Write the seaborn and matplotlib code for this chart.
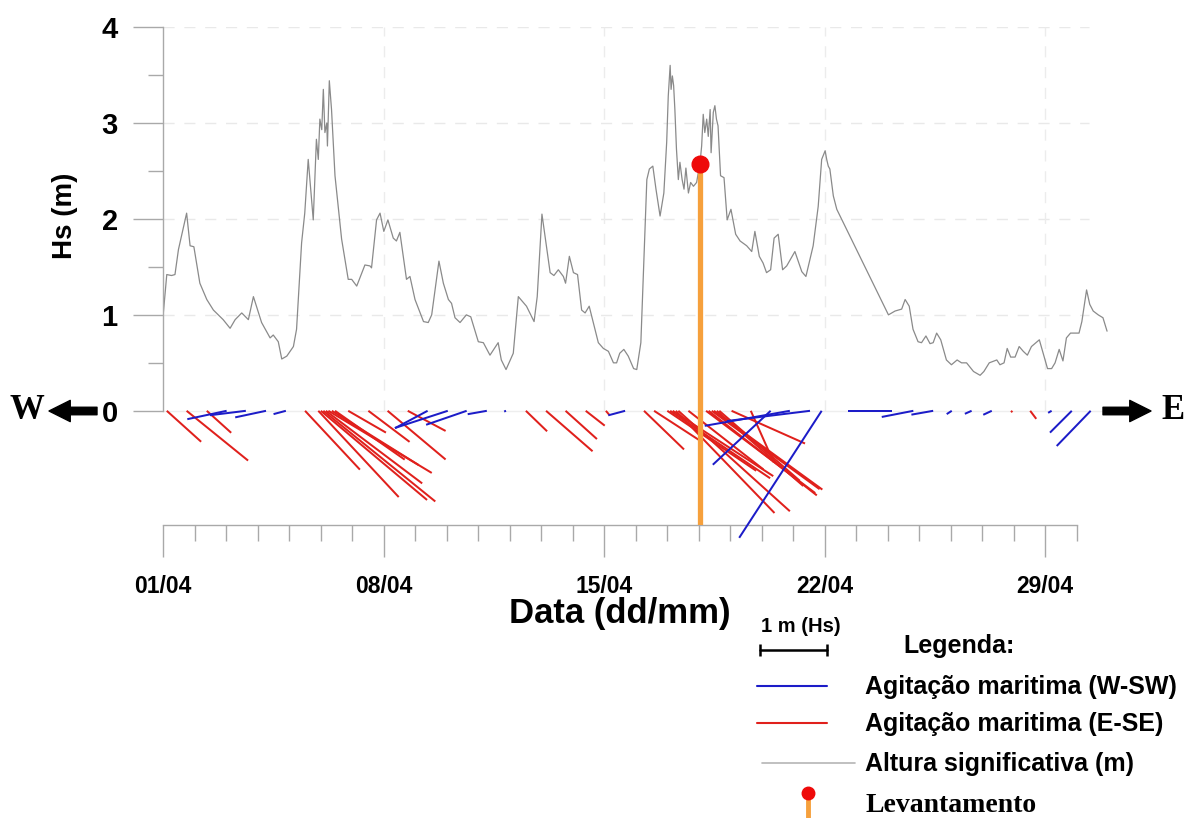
import numpy as np
import matplotlib
matplotlib.use("Agg")
import matplotlib.pyplot as plt
import seaborn as sns
from matplotlib.lines import Line2D

# significant wave height, time in days from 01/04 00h
hs_day = [0.00, 0.12, 0.27, 0.38, 0.49, 0.75, 0.86, 0.98, 1.17, 1.39, 1.60, 1.91, 2.13, 2.29,
          2.50, 2.71, 2.87, 3.13, 3.40, 3.50, 3.66, 3.77, 3.93, 4.14, 4.24, 4.40, 4.50, 4.61,
          4.77, 4.87, 4.93, 4.98, 5.04, 5.09, 5.14, 5.20, 5.22, 5.28, 5.35, 5.46, 5.67, 5.88,
          5.99, 6.15, 6.41, 6.57, 6.62, 6.78, 6.89, 7.01, 7.14, 7.31, 7.41, 7.52, 7.73, 7.84,
          8.00, 8.27, 8.42, 8.53, 8.76, 8.90, 9.06, 9.16, 9.27, 9.43, 9.63, 9.77, 10.01, 10.17,
          10.38, 10.64, 10.74, 10.89, 11.12, 11.28, 11.54, 11.78, 11.88, 12.03, 12.29, 12.41,
          12.55, 12.71, 12.78, 12.90, 13.03, 13.16, 13.29, 13.40, 13.53, 13.82, 13.98, 14.14,
          14.30, 14.40, 14.50, 14.63, 14.77, 14.94, 15.04, 15.17, 15.36, 15.44, 15.55, 15.65,
          15.78, 15.90, 15.99, 16.04, 16.10, 16.13, 16.17, 16.21, 16.25, 16.30, 16.36, 16.41,
          16.48, 16.54, 16.60, 16.68, 16.75, 16.84, 16.94, 17.05, 17.10, 17.15, 17.20, 17.26,
          17.31, 17.37, 17.40, 17.47, 17.52, 17.57, 17.62, 17.70, 17.81, 17.91, 18.03, 18.18,
          18.32, 18.53, 18.69, 18.79, 18.93, 19.05, 19.16, 19.29, 19.40, 19.53, 19.67, 19.80,
          20.06, 20.28, 20.41, 20.64, 20.80, 20.91, 21.02, 21.07, 21.12, 21.17, 21.28, 21.39,
          23.03, 23.24, 23.45, 23.56, 23.69, 23.81, 23.97, 24.08, 24.22, 24.35, 24.45, 24.56,
          24.69, 24.87, 25.03, 25.21, 25.35, 25.51, 25.73, 25.94, 26.06, 26.23, 26.47, 26.57,
          26.70, 26.80, 26.91, 27.05, 27.18, 27.31, 27.44, 27.57, 27.82, 27.94, 28.08, 28.21,
          28.32, 28.45, 28.57, 28.68, 28.81, 28.94, 29.08, 29.17, 29.32, 29.42, 29.53, 29.69,
          29.84, 29.97]
hs_m = [0.98, 1.42, 1.41, 1.42, 1.68, 2.06, 1.72, 1.71, 1.33, 1.16, 1.05, 0.95, 0.86, 0.95,
        1.02, 0.95, 1.19, 0.92, 0.76, 0.79, 0.72, 0.54, 0.57, 0.67, 0.85, 1.75, 2.06, 2.62,
        1.99, 2.83, 2.62, 3.04, 2.93, 3.35, 2.90, 3.00, 2.76, 3.44, 3.14, 2.45, 1.79, 1.37,
        1.37, 1.30, 1.52, 1.51, 1.49, 1.99, 2.06, 1.87, 1.99, 1.80, 1.77, 1.86, 1.37, 1.40,
        1.16, 0.93, 0.92, 1.00, 1.56, 1.33, 1.16, 1.12, 0.97, 0.92, 1.00, 0.98, 0.72, 0.71,
        0.58, 0.71, 0.53, 0.43, 0.60, 1.19, 1.09, 0.93, 1.19, 2.05, 1.44, 1.41,
        1.47, 1.40, 1.33, 1.61, 1.44, 1.42, 1.05, 1.02, 1.09, 0.71, 0.65, 0.62,
        0.50, 0.50, 0.60, 0.64, 0.57, 0.44, 0.43, 0.71, 2.41, 2.52, 2.55, 2.31,
        2.03, 2.27, 2.80, 3.28, 3.60, 3.35, 3.49, 3.39, 3.14, 2.73, 2.41, 2.59,
        2.41, 2.31, 2.53, 2.27, 2.38, 2.34, 2.38, 2.59, 2.76, 3.09, 2.90, 3.04,
        2.86, 3.14, 2.69, 3.11, 3.18, 3.04, 2.97, 2.45, 2.43, 1.99, 2.10, 1.84,
        1.77, 1.72, 1.66, 1.87, 1.61, 1.54, 1.44, 1.47, 1.80, 1.84, 1.47, 1.51,
        1.66, 1.45, 1.40, 1.72, 2.13, 2.62, 2.71, 2.62, 2.55, 2.52, 2.24, 2.10,
        1.00, 1.04, 1.06, 1.16, 1.09, 0.85, 0.72, 0.71, 0.78, 0.70, 0.71, 0.81,
        0.74, 0.53, 0.48, 0.53, 0.50, 0.50, 0.41, 0.37, 0.41, 0.50, 0.53, 0.48,
        0.50, 0.65, 0.56, 0.56, 0.67, 0.62, 0.58, 0.67, 0.74, 0.60, 0.44, 0.44,
        0.50, 0.64, 0.52, 0.76, 0.81, 0.81, 0.81, 0.93, 1.26, 1.11, 1.04, 1.00,
        0.97, 0.83]

# wave sticks: length in m (stick scale) and direction they point to (deg, clockwise from N)
red_day = [0.12, 0.75, 1.39, 4.51, 4.93, 5.01, 5.09, 5.17, 5.25, 5.36, 5.46, 5.88, 6.52, 7.13,
           7.77, 11.52, 12.16, 12.78, 13.42, 14.06, 15.27, 15.59, 16.01, 16.10, 16.18, 16.28,
           16.36, 16.68, 17.24, 17.32, 17.42, 17.49, 17.58, 17.66, 18.05, 18.66, 26.92, 27.53]
red_len = [0.69, 1.18, 0.49, 1.20, 1.76, 2.07, 2.15, 1.80, 1.80, 1.53, 1.27, 0.65, 0.77, 1.13,
           0.64, 0.44, 0.92, 0.63, 0.36, 0.08, 0.83, 0.82, 1.60, 1.80, 1.79, 2.12,
           2.24, 1.42, 2.04, 2.05, 1.99, 2.00, 1.71, 1.59, 1.20, 0.84, 0.03, 0.15]
red_dir = [132, 129, 132, 137, 137, 130, 129, 127, 121, 122, 125, 120, 127, 130,
           118, 134, 131, 132, 128, 140, 134, 123, 124, 124, 123, 136,
           132, 128, 127, 128, 126, 126, 131, 131, 114, 156, 135, 143]

blue_day = [2.02, 2.63, 3.27, 3.90, 8.40, 9.04, 9.64, 10.28, 10.89, 14.67, 19.29, 19.90,
            20.54, 20.91, 23.13, 23.82, 24.45, 25.04, 25.67, 26.31, 28.21, 28.85, 29.45]
blue_len = [0.60, 0.54, 0.47, 0.19, 0.55, 0.83, 0.64, 0.29, 0.03, 0.26, 1.18, 1.29,
            1.25, 2.26, 0.65, 0.48, 0.33, 0.09, 0.11, 0.14, 0.06, 0.46, 0.73]
blue_dir = [258, 263, 258, 255, 242, 252, 251, 260, 250, 255, 227, 260,
            263, 213, 270, 259, 260, 237, 246, 245, 240, 225, 224]

lev_day = [17.05]
lev_hs = [2.57]

week_pos = [0, 7, 14, 21, 28]
date_labels = ["01/04", "08/04", "15/04", "22/04", "29/04"]
day_pos = list(range(0, 30))
hs_ticks = [0, 1, 2, 3, 4]

W, H, DPI = 1187, 818, 100
STICK_SCALE = 1.4925  # m of stick per inch

BLUE = "#1c1cc8"
RED = "#e0201c"
GRAY = "#8a8a8a"
ORANGE = "#f6a03c"
AXC = "#a9a9a9"

sns.set_style("white")
plt.rcParams["font.family"] = ["Liberation Sans", "DejaVu Sans"]
plt.rcParams["text.color"] = "black"
plt.rcParams["axes.labelcolor"] = "black"
plt.rcParams["xtick.color"] = "black"
plt.rcParams["ytick.color"] = "black"


def fx(px):
    return px / W


def fy(py):
    return 1 - py / H


fig = plt.figure(figsize=(W / DPI, H / DPI), dpi=DPI)
ax = fig.add_axes([163 / W, 1 - 525 / H, 945 / W, 498 / H])

# grid
ax.hlines(hs_ticks[1:], 0, 29.4, colors="#e9e9e9", linestyles=(0, (8, 7)), lw=1, zorder=0)
ax.vlines(week_pos[1:], 0, 4, colors="#ececec", linestyles=(0, (8, 7)), lw=1, zorder=0)
ax.axhline(0, xmin=0, xmax=0.995, color="#eeeeee", lw=1, zorder=0)

sns.lineplot(x=hs_day, y=hs_m, ax=ax, color=GRAY, lw=0.9, zorder=2)


def sticks(day, length, direc, color):
    th = np.deg2rad(np.array(direc))
    ln = np.array(length)
    q = ax.quiver(day, np.zeros(len(day)), ln * np.sin(th), ln * np.cos(th), color=color,
                  angles="uv", scale_units="inches", scale=STICK_SCALE, units="inches",
                  width=0.02, headwidth=0, headlength=0, headaxislength=0, pivot="tail",
                  zorder=3)
    q.set_clip_on(False)


sticks(red_day, red_len, red_dir, RED)
sticks(blue_day, blue_len, blue_dir, BLUE)

ax.set_xlim(0, 30)
ax.set_ylim(-1.19, 4)

ax.vlines(lev_day, ax.get_ylim()[0], lev_hs, colors=ORANGE, lw=3.8, zorder=4)
ax.plot(lev_day, lev_hs, "o", color="#ee0a0a", ms=12, zorder=5)

# axes styling
for s in ["top", "right"]:
    ax.spines[s].set_visible(False)
ax.spines["left"].set_bounds(0, 4)
ax.spines["bottom"].set_bounds(0, 29)
for s in ["left", "bottom"]:
    ax.spines[s].set_color(AXC)
    ax.spines[s].set_linewidth(1)

tick_font = ["Liberation Sans Narrow", "Liberation Sans", "DejaVu Sans"]
ax.set_xticks(week_pos)
ax.set_xticklabels(date_labels, fontsize=16.5, fontweight="bold", family=tick_font)
ax.set_xticks(day_pos, minor=True)
ax.set_yticks(hs_ticks)
ax.set_yticklabels([str(v) for v in hs_ticks], fontsize=21, fontweight="bold")
ax.set_yticks(np.arange(0, 4.01, 0.5), minor=True)
ax.tick_params(axis="x", which="major", bottom=True, length=23, width=1, color=AXC, pad=13)
ax.tick_params(axis="x", which="minor", bottom=True, length=11.5, width=1, color=AXC)
ax.tick_params(axis="y", which="major", left=True, length=21.6, width=1, color=AXC, pad=11)
ax.tick_params(axis="y", which="minor", left=True, length=10.8, width=1, color=AXC)

ax.set_xlabel("Data (dd/mm)", fontsize=25, fontweight="bold")
ax.xaxis.set_label_coords(0.4836, -0.177)
ax.xaxis.label.set_va("center")
ax.set_ylabel("Hs (m)", fontsize=20, fontweight="bold")
ax.yaxis.set_label_coords(-0.104, 0.62)
ax.yaxis.label.set_va("center")

# W / E arrows
arrow = "simple,head_length=0.85,head_width=0.85,tail_width=0.3"
fig.text(fx(27), fy(411), "W", family="Liberation Serif", weight="bold", fontsize=25,
         ha="center", va="center")
ax.annotate("", xy=(fx(49), fy(411)), xytext=(fx(97), fy(411)), xycoords="figure fraction",
            textcoords="figure fraction",
            arrowprops=dict(arrowstyle=arrow, color="black", mutation_scale=18,
                            shrinkA=0, shrinkB=0))
ax.annotate("", xy=(fx(1151), fy(411)), xytext=(fx(1103), fy(411)), xycoords="figure fraction",
            textcoords="figure fraction",
            arrowprops=dict(arrowstyle=arrow, color="black", mutation_scale=18,
                            shrinkA=0, shrinkB=0))
fig.text(fx(1173), fy(411), "E", family="Liberation Serif", weight="bold", fontsize=25,
         ha="center", va="center")

# legend, drawn by hand
bar_px = DPI / STICK_SCALE
fig.text(fx(761), fy(627), "1 m (Hs)", fontsize=14.5, fontweight="bold", va="center",
         family=tick_font)
fig.add_artist(Line2D([fx(760), fx(760 + bar_px)], [fy(650), fy(650)], color="black",
                      lw=1.8, marker="|", ms=9, mew=1.8))
fig.text(fx(903), fy(646), "Legenda:", fontsize=18, fontweight="bold", va="center")

entries = [(BLUE, "Agitação maritima (W-SW)", 686, 757, 827, 1.5),
           (RED, "Agitação maritima (E-SE)", 723, 757, 827, 1.5),
           ("#b5b5b5", "Altura significativa (m)", 763, 762, 855, 1.2)]
for col, lab, yy, x0, x1, lw in entries:
    fig.add_artist(Line2D([fx(x0), fx(x1)], [fy(yy), fy(yy)], color=col, lw=lw))
    fig.text(fx(865), fy(yy + 1), lab, fontsize=18, fontweight="bold", va="center")

fig.add_artist(Line2D([fx(808), fx(808)], [fy(797), fy(818)], color=ORANGE, lw=3.5))
fig.add_artist(Line2D([fx(808)], [fy(793)], color="#ee0a0a", marker="o", ms=9, lw=0))
fig.text(fx(865), fy(805), "Levantamento", family="Liberation Serif", fontsize=20,
         fontweight="bold", va="center")

fig.savefig("out.png", dpi=DPI)
